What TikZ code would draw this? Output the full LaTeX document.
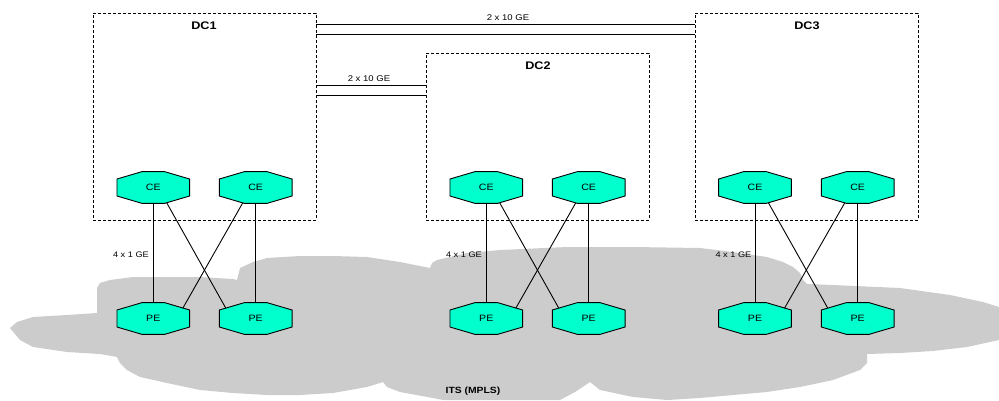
\documentclass[tikz,border=0pt]{standalone}
\usepackage{fontspec}
\setmainfont{Liberation Sans}[FakeStretch=1.15]
\definecolor{aquafill}{RGB}{0,255,204}
\definecolor{cloudgray}{RGB}{204,204,204}
\pgfdeclarelayer{cloudlayer}
\pgfdeclarelayer{octlayer}
\pgfsetlayers{cloudlayer,octlayer,main}
\begin{document}
\begin{tikzpicture}[x=1pt,y=-1pt,
  dcbox/.style={draw, dash pattern=on 3pt off 2pt, line width=0.9pt, inner sep=0pt},
  dclabel/.style={font=\fontsize{11}{13}\selectfont\bfseries, inner sep=0pt},
  octa/.style={minimum width=72.7pt, minimum height=31.7pt, inner sep=0pt,
    font=\fontsize{9.2}{11}\selectfont},
  octshape/.style={draw, fill=aquafill, line width=0.9pt, line join=miter},
  linklabel/.style={font=\fontsize{8.3}{10}\selectfont, inner sep=0pt},
  gelabel/.style={font=\fontsize{8}{10}\selectfont, inner sep=0pt, anchor=east},
  link/.style={line width=0.9pt}]
\useasboundingbox (0,0) rectangle (999,400);
% cloud
\begin{pgfonlayer}{cloudlayer}
\fill[cloudgray] (10,328) -- (17,322) -- (33,317) -- (67,315) -- (97,313) -- (97,288) -- (100,283) -- (110,280) -- (133,277) -- (167,277) -- (200,277) -- (233,279) -- (237,280) -- (240,268) -- (253,262) -- (267,258) -- (300,256) -- (333,256) -- (367,257) -- (400,262) -- (430,268) -- (432,263) -- (437,260) -- (467,253) -- (500,250) -- (567,247) -- (633,247) -- (700,248) -- (733,252) -- (767,257) -- (783,262) -- (793,267) -- (800,273) -- (803,280) -- (807,284) -- (833,285) -- (900,288) -- (950,295) -- (983,302) -- (999,307) -- (999,340) -- (967,347) -- (933,351) -- (900,353) -- (867,354) -- (867,363) -- (860,370) -- (833,380) -- (800,387) -- (767,392) -- (733,395) -- (700,398) -- (667,400) -- (633,397) -- (600,390) -- (590,382) -- (575,392) -- (560,400) -- (443,400) -- (433,398) -- (400,392) -- (387,387) -- (383,382) -- (367,387) -- (333,393) -- (300,395) -- (267,395) -- (233,393) -- (200,390) -- (167,383) -- (140,377) -- (127,370) -- (120,363) -- (117,357) -- (100,354) -- (67,352) -- (33,347) -- (20,340) -- cycle;
\end{pgfonlayer}
\node[font=\fontsize{9}{11}\selectfont\bfseries, inner sep=0pt] (its) at (473,391) {ITS (MPLS)};
% data centre boxes
\node[dcbox, minimum width=223pt, minimum height=207pt] (dc1) at (204.5,116.5) {};
\node[dcbox, minimum width=223pt, minimum height=167pt] (dc2) at (537.5,136.5) {};
\node[dcbox, minimum width=223pt, minimum height=207pt] (dc3) at (806.5,116.5) {};
\node[dclabel] (dc1lab) at (204,26) {DC1};
\node[dclabel] (dc2lab) at (538,66) {DC2};
\node[dclabel] (dc3lab) at (807,26) {DC3};
% inter-DC links
\draw[link] ([yshift=-12pt]dc1.north east) -- ([yshift=-12pt]dc3.north west);
\draw[link] ([yshift=-22pt]dc1.north east) -- ([yshift=-22pt]dc3.north west);
\node[linklabel] (l13) at (508,18) {2 x 10 GE};
\draw[link] ([yshift=-33pt]dc2.north west) -- ([yshift=-33pt]dc2.north west -| dc1.east);
\draw[link] ([yshift=-43pt]dc2.north west) -- ([yshift=-43pt]dc2.north west -| dc1.east);
\node[linklabel] (l12) at (369,79) {2 x 10 GE};
% CE / PE routers
\foreach \i/\x in {1/153.3,2/255.7,3/486.3,4/588.7,5/755,6/857.7}{
  \node[octa] (ce\i) at (\x,187.5) {CE};
  \node[octa] (pe\i) at (\x,318.5) {PE};
}
\begin{pgfonlayer}{octlayer}
\foreach \n in {ce1,ce2,ce3,ce4,ce5,ce6,pe1,pe2,pe3,pe4,pe5,pe6}{
  \path[octshape, shift={(\n.center)}] (-36.35,-8.5) -- (-11.35,-15.85) -- (11.35,-15.85) -- (36.35,-8.5)
    -- (36.35,8.5) -- (11.35,15.85) -- (-11.35,15.85) -- (-36.35,8.5) -- cycle;
}
\end{pgfonlayer}
% access links
\foreach \a/\b in {1/2,3/4,5/6}{
  \draw[link] (ce\a.south) -- (pe\a.north);
  \draw[link] (ce\b.south) -- (pe\b.north);
  \draw[link] ([xshift=13.5pt,yshift=0.6pt]ce\a.south) -- ([xshift=-30pt,yshift=10.5pt]pe\b.center);
  \draw[link] ([xshift=-13pt,yshift=0.6pt]ce\b.south) -- ([xshift=29.5pt,yshift=10.3pt]pe\a.center);
}
\node[gelabel] (g1) at (149,254.5) {4 x 1 GE};
\node[gelabel] (g2) at (482,254.5) {4 x 1 GE};
\node[gelabel] (g3) at (751.5,254.5) {4 x 1 GE};
\end{tikzpicture}
\end{document}
